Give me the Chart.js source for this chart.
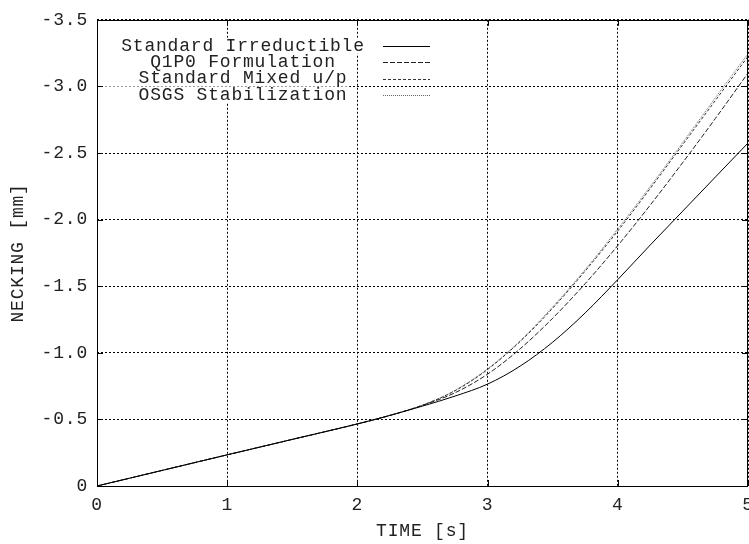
<!DOCTYPE html>
<html>
<head>
<meta charset="utf-8">
<script src="https://cdn.jsdelivr.net/npm/chart.js@4/dist/chart.umd.min.js"></script>
<style>
  html, body { margin: 0; padding: 0; background: #fff; overflow: hidden; }
  canvas { display: block; }
</style>
</head>
<body>
<canvas id="neckChart" width="770" height="544"></canvas>
<script>
// NECKING vs TIME (gnuplot look)

var times        = [0, 0.5, 1, 1.5, 2, 2.25, 2.5, 2.75, 3, 3.25, 3.5, 3.75, 4, 4.25, 4.5, 4.75, 5];
var irreductible = [0, -0.117, -0.234, -0.35, -0.466, -0.53, -0.6, -0.675, -0.765, -0.9, -1.08, -1.3, -1.55, -1.81, -2.065, -2.32, -2.575];
var q1p0         = [0, -0.117, -0.234, -0.35, -0.466, -0.53, -0.605, -0.70, -0.84, -1.03, -1.26, -1.52, -1.805, -2.11, -2.43, -2.76, -3.1];
var mixedUP      = [0, -0.117, -0.234, -0.35, -0.466, -0.53, -0.607, -0.715, -0.875, -1.085, -1.335, -1.615, -1.915, -2.235, -2.565, -2.895, -3.225];
var osgs         = [0, -0.117, -0.234, -0.35, -0.466, -0.53, -0.607, -0.718, -0.88, -1.09, -1.345, -1.625, -1.93, -2.25, -2.58, -2.915, -3.245];

var seriesNames = ["Standard Irreductible", "Q1P0 Formulation", "Standard Mixed u/p", "OSGS Stabilization"];
var xTicks = [0, 1, 2, 3, 4, 5];
var yTicks = [0, -0.5, -1.0, -1.5, -2.0, -2.5, -3.0, -3.5];

function pts(ys) {
  return times.map(function (t, i) { return { x: t, y: ys[i] }; });
}

var monoFont = { family: "'Liberation Mono', monospace", size: 18 };
var textColor = "#222";

// frame, inward tick marks and the gnuplot style key
var gnuplotFrame = {
  id: "gnuplotFrame",
  beforeDraw: function (chart) {
    chart.ctx.letterSpacing = "0.8px";
  },
  afterDraw: function (chart) {
    var ctx = chart.ctx, a = chart.chartArea;
    var xs = chart.scales.x, ys = chart.scales.y;
    var dsets = chart.data.datasets;
    var textX = a.left + 146, sampleA = a.left + 286, sampleB = a.left + 333;
    ctx.save();
    ctx.font = "18px 'Liberation Mono', monospace";

    // white boxes behind the key text
    ctx.fillStyle = "#fff";
    dsets.forEach(function (ds, i) {
      var y = a.top + 26 + i * 16.4;
      var w = ctx.measureText(ds.label).width;
      ctx.fillRect(a.left + 2, y - 8, textX + w / 2 + 2 - (a.left + 2), 16);
    });

    // frame
    ctx.setLineDash([]);
    ctx.strokeStyle = "#000";
    ctx.lineWidth = 1;
    ctx.strokeRect(Math.round(a.left) + 0.5, Math.round(a.top) + 0.5,
                   Math.round(a.right) - Math.round(a.left) - 1, Math.round(a.bottom) - Math.round(a.top));

    // tick marks pointing in
    ctx.beginPath();
    xTicks.forEach(function (v) {
      var px = Math.round(xs.getPixelForValue(v)) + 0.5;
      ctx.moveTo(px, a.bottom); ctx.lineTo(px, a.bottom - 6);
      ctx.moveTo(px, a.top); ctx.lineTo(px, a.top + 6);
    });
    yTicks.forEach(function (v) {
      var py = Math.round(ys.getPixelForValue(v)) + 0.5;
      ctx.moveTo(a.left, py); ctx.lineTo(a.left + 6, py);
      ctx.moveTo(a.right, py); ctx.lineTo(a.right - 6, py);
    });
    ctx.stroke();

    // key text and line samples
    ctx.textAlign = "center";
    ctx.textBaseline = "middle";
    dsets.forEach(function (ds, i) {
      var y = a.top + 26 + i * 16.4;
      ctx.fillStyle = textColor;
      ctx.fillText(ds.label, textX, y);
      ctx.setLineDash(ds.borderDash || []);
      ctx.strokeStyle = ds.borderColor;
      ctx.beginPath();
      ctx.moveTo(sampleA, Math.round(y) + 0.5);
      ctx.lineTo(sampleB, Math.round(y) + 0.5);
      ctx.stroke();
    });
    ctx.restore();
  }
};

function series(name, ys, color, dash) {
  return {
    label: name,
    data: pts(ys),
    borderColor: color,
    borderWidth: 1,
    borderDash: dash,
    pointRadius: 0,
    fill: false,
    cubicInterpolationMode: "monotone"
  };
}

new Chart("neckChart", {
  type: "line",
  data: {
    datasets: [
      series(seriesNames[0], irreductible, "#000", []),
      series(seriesNames[1], q1p0, "#222", [5, 2]),
      series(seriesNames[2], mixedUP, "#333", [3, 2]),
      series(seriesNames[3], osgs, "#666", [1, 1])
    ]
  },
  options: {
    responsive: false,
    animation: false,
    devicePixelRatio: 1,
    layout: { padding: { top: 15, right: 22, left: 0, bottom: 0 } },
    plugins: {
      legend: { display: false },
      tooltip: { enabled: false }
    },
    scales: {
      x: {
        type: "linear",
        min: 0,
        max: 5,
        afterBuildTicks: function (s) { s.ticks = xTicks.map(function (v) { return { value: v }; }); },
        afterFit: function (s) { s.height = 58; },
        grid: { color: "#000", lineWidth: 1, drawTicks: false },
        border: { display: false, dash: [2, 2] },
        ticks: { font: monoFont, color: textColor, padding: 8, maxRotation: 0, autoSkip: false },
        title: { display: true, text: "TIME [s]", font: monoFont, color: textColor, padding: { top: 0, bottom: 2 } }
      },
      y: {
        type: "linear",
        min: -3.5,
        max: 0,
        reverse: true,
        afterBuildTicks: function (s) { s.ticks = yTicks.map(function (v) { return { value: v }; }); },
        afterFit: function (s) { s.width = 97; },
        grid: { color: "#000", lineWidth: 1, drawTicks: false },
        border: { display: false, dash: [2, 2] },
        ticks: {
          font: monoFont, color: textColor, padding: 9,
          callback: function (v) { return v === 0 ? "0" : v.toFixed(1); }
        },
        title: { display: true, text: "NECKING [mm]", font: monoFont, color: textColor, padding: { top: 7, bottom: 0 } }
      }
    }
  },
  plugins: [gnuplotFrame]
});
</script>
</body>
</html>
